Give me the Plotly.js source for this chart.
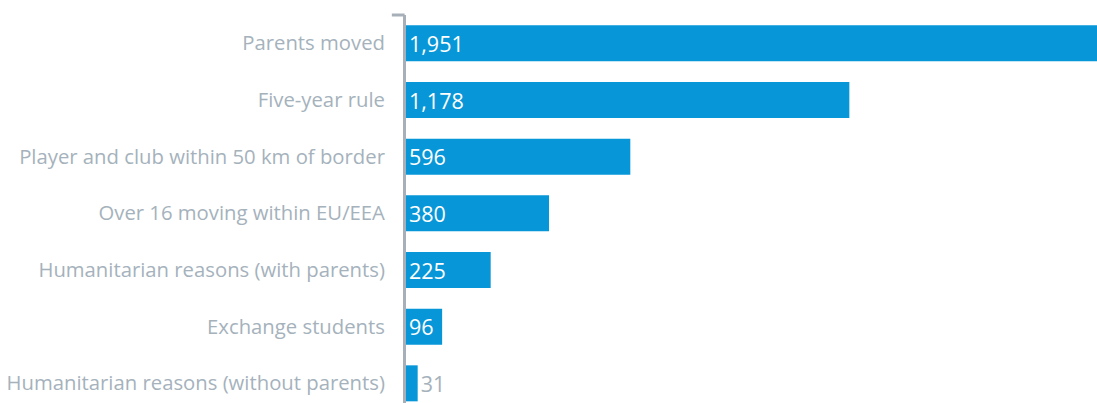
<!DOCTYPE html>
<html><head><meta charset="utf-8">
<script src="https://cdn.plot.ly/plotly-3.0.1.min.js"></script>
<style>html,body{margin:0;padding:0;background:#fff}#chart{width:1097px;height:403px}</style>
</head><body><div id="chart"></div>
<script>
const categories = ["Parents moved","Five-year rule","Player and club within 50 km of border","Over 16 moving within EU/EEA","Humanitarian reasons (with parents)","Exchange students","Humanitarian reasons (without parents)"];
const values = [1951,1178,596,380,225,96,31];
const valueLabels = ["1,951","1,178","596","380","225","96","31"];

const gray = '#a5b2bc';
const blue = '#0797d8';
const trace = {
  type:'bar', orientation:'h', y:categories, x:values,
  text:valueLabels, textposition: values.map(v => v < 60 ? 'outside' : 'inside'),
  insidetextanchor:'start', constraintext:'none',
  insidetextfont:{color:'#ffffff', size:21.5, family:'Open Sans, sans-serif'},
  outsidetextfont:{color:gray, size:21.5, family:'Open Sans, sans-serif'},
  marker:{color:blue}, width:0.635, cliponaxis:true, hoverinfo:'none'
};
const layout = {
  width:1097, height:403, margin:{l:406, r:0, t:15, b:0},
  paper_bgcolor:'#fff', plot_bgcolor:'#fff', showlegend:false,
  xaxis:{range:[0,1836], visible:false, fixedrange:true},
  yaxis:{type:'category', range:[6.347,-0.5], showline:true, linewidth:3, linecolor:'#a7b0b8',
    ticks:'', showgrid:false, zeroline:false, ticklabelstandoff:14,
    tickfont:{color:gray, size:20.3, family:'Open Sans, sans-serif'}},
  shapes:[{type:'line', xref:'paper', yref:'paper', x0:-0.0205, x1:-0.002, y0:1, y1:1, line:{color:'#a7b0b8', width:3}}]
};
Plotly.newPlot('chart',[trace],layout,{displayModeBar:false, staticPlot:true});
</script></body></html>
